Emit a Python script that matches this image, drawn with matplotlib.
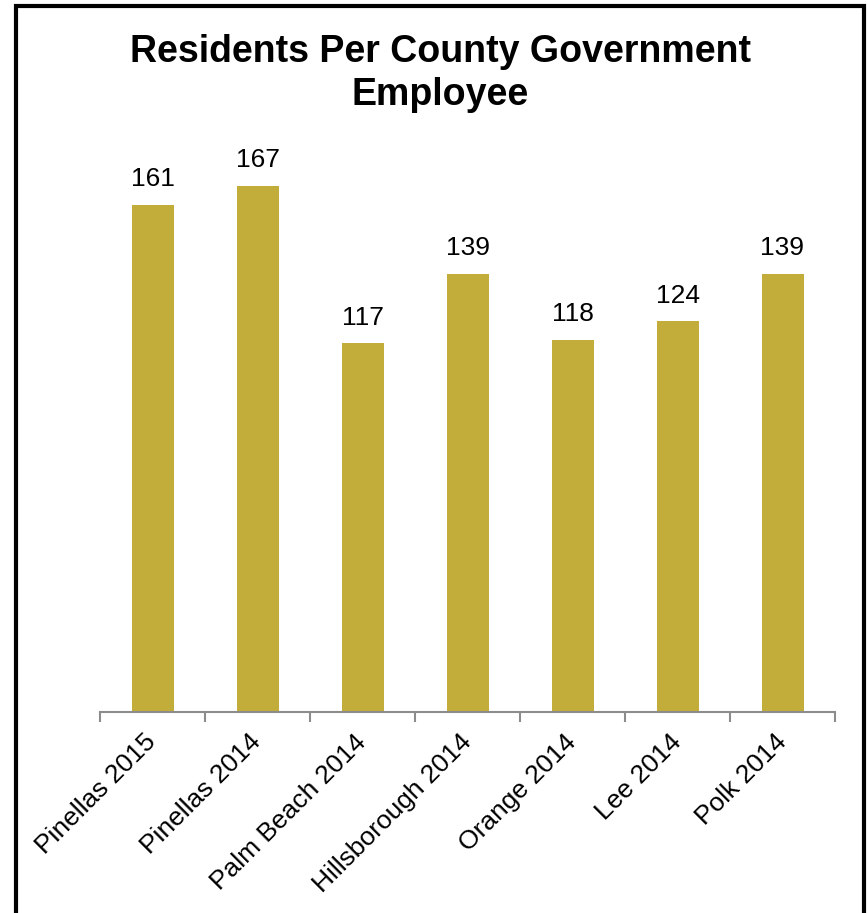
import matplotlib.pyplot as plt
from matplotlib.patches import Rectangle

plt.rcParams['font.family'] = ['Liberation Sans', 'DejaVu Sans']

counties = ['Pinellas 2015', 'Pinellas 2014', 'Palm Beach 2014', 'Hillsborough 2014',
            'Orange 2014', 'Lee 2014', 'Polk 2014']
residents = [161, 167, 117, 139, 118, 124, 139]
title_lines = ['Residents Per County Government', 'Employee']

bar_color = '#C2AC3A'
axis_color = '#8C8C8C'

fig = plt.figure(figsize=(8.68, 9.13), dpi=100)
W, H = 868, 913
ax = fig.add_axes([100 / W, 1 - 712 / H, 735 / W, (712 - 145) / H])

x = list(range(len(counties)))
bars = ax.bar(x, residents, width=0.4, color=bar_color, zorder=2)
for xi, v in zip(x, residents):
    ax.annotate(str(v), (xi, v), xytext=(0, 10), textcoords='offset points',
                ha='center', va='bottom', fontsize=19)

ax.set_xlim(-0.5, len(counties) - 0.5)
ax.set_ylim(0, 180)
ax.set_yticks([])
for s in ['top', 'right', 'left']:
    ax.spines[s].set_visible(False)
ax.spines['bottom'].set_color(axis_color)
ax.spines['bottom'].set_linewidth(1.5)

# tick marks sit between categories, labels at the bar centres
ax.set_xticks([i - 0.5 for i in range(len(counties) + 1)], minor=False)
ax.set_xticklabels([''] * (len(counties) + 1))
ax.tick_params(axis='x', which='major', length=7, width=1.5, color=axis_color, direction='out')
ax.set_xticks(x, minor=True)
ax.set_xticklabels(counties, minor=True, rotation=45, ha='right', va='center',
                   rotation_mode='anchor', fontsize=19)
ax.tick_params(axis='x', which='minor', length=0, pad=19)

# two-line title, each line placed on its own baseline
for line, y_px in zip(title_lines, [62, 105]):
    fig.text(440 / W, 1 - y_px / H, line, ha='center', va='baseline',
             fontsize=27, fontweight='bold')

# chart frame, open at the bottom edge
fig.patches.append(Rectangle((16 / W, -0.05), 848 / W, 1.05 - 6 / H,
                             transform=fig.transFigure, fill=False,
                             edgecolor='black', linewidth=3))

fig.savefig('out.png', dpi=100)
